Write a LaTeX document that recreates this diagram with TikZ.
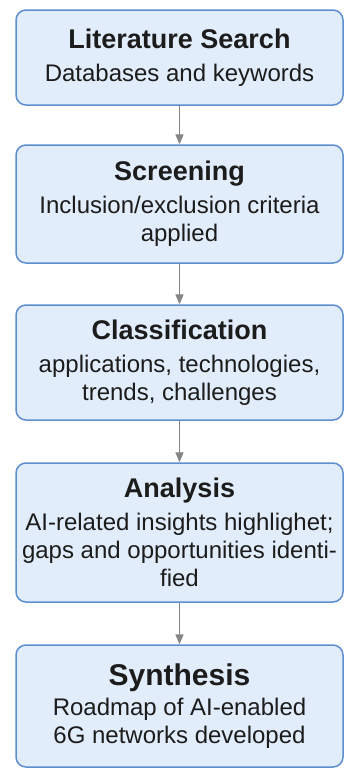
\documentclass[tikz,border=0pt]{standalone}
\usepackage{fontspec}
\setmainfont{Liberation Sans}
\usepackage{tikz}
\usetikzlibrary{arrows}
\usetikzlibrary{positioning}
\definecolor{boxfill}{HTML}{E2EDFB}
\definecolor{boxline}{HTML}{5E8ED0}
\definecolor{arrowgray}{HTML}{858585}
\definecolor{textdark}{HTML}{1C1C1C}
\newcommand{\steptitle}[1]{{\fontsize{27}{30}\selectfont\bfseries #1}}

\begin{document}
\begin{tikzpicture}[x=1pt,y=-1pt,->,>=triangle 45,shorten >=0pt,
    thick,stage box/.style={rectangle,rounded corners=10pt,draw=boxline,line width=1.5pt,fill=boxfill,
      minimum width=327pt,inner sep=0pt,align=center,text=textdark,font=\fontsize{24}{28}\selectfont},
    flow arrow/.style={draw=arrowgray,fill=arrowgray,line width=1.3pt}]
  \useasboundingbox (0,0) rectangle (344,769);
  \begin{scope}
    \node[stage box,minimum height=95pt] (search) at (179.5,57.5) {\steptitle{Literature Search}\\[5pt] Databases and keywords};
    \node[stage box,minimum height=118pt] (screen) at (179.5,204) {\steptitle{Screening}\\[5pt] Inclusion/exclusion criteria\\ applied};
    \node[stage box,minimum height=115pt] (classify) at (179.5,362.5) {\steptitle{Classification}\\[5pt] applications, technologies,\\ trends, challenges};
    \node[stage box,minimum height=139pt] (analysis) at (179.5,532.5) {\steptitle{Analysis}\\[5pt] AI-related insights highlighet;\\ gaps and opportunities identi-\\ fied};
    \node[stage box,minimum height=122pt] (synth) at (179.5,706) {{\fontsize{30}{33}\selectfont\bfseries Synthesis}\\[2pt] Roadmap of AI-enabled\\ 6G networks developed};
    %\path[flow arrow] (search) edge [bend left] (screen);
    \path[flow arrow] (search) edge (screen);
    \path[flow arrow] (screen) edge (classify);
    \path[flow arrow] (classify) edge (analysis);
    \path[flow arrow] (analysis) edge (synth);
  \end{scope}
\end{tikzpicture}
\end{document}
